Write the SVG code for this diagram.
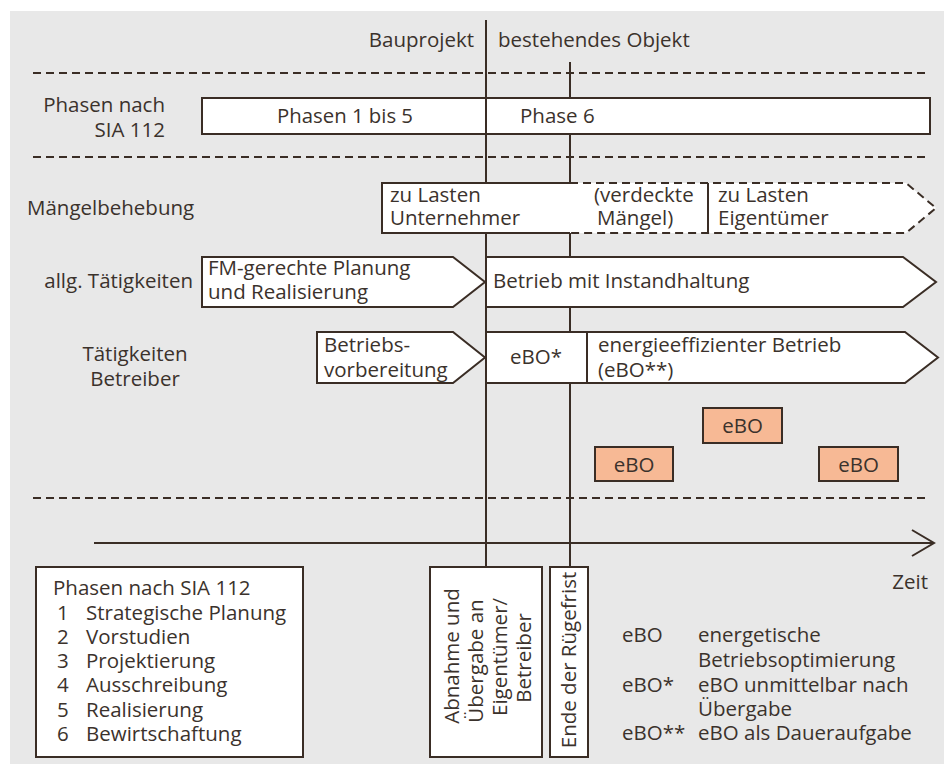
<svg xmlns="http://www.w3.org/2000/svg" width="944" height="764" viewBox="0 0 944 764">
<style>
text{font-family:"Open Sans","Noto Sans","DejaVu Sans",sans-serif;font-size:20.5px;font-weight:400;fill:#3b322c}
.ln{stroke:#3a2d25;stroke-width:2;fill:none}
.dash{stroke:#3a2d25;stroke-width:2;fill:none;stroke-dasharray:8 5}
.box{fill:#fff;stroke:#3a2d25;stroke-width:2}
.ebo{fill:#f7b995;stroke:#3a2d25;stroke-width:2}
.mid{text-anchor:middle}
.end{text-anchor:end}
</style>
<rect x="10" y="11" width="934" height="753" fill="#e8e8e8"/>

<g id="connectors">
<line class="dash" x1="33" y1="73" x2="930" y2="73"/>
<line class="dash" x1="33" y1="157" x2="930" y2="157"/>
<line class="dash" x1="33" y1="498" x2="930" y2="498"/>
<line class="ln" x1="486" y1="20" x2="486" y2="567"/>
<line class="ln" x1="570" y1="62" x2="570" y2="567"/>
<line class="ln" x1="94" y1="543" x2="933" y2="543" stroke-width="3"/>
<polyline class="ln" points="912,530 934,543 912,556" stroke-width="3"/>
</g>

<g id="header">
<text class="end" x="474" y="47">Bauprojekt</text>
<text x="498" y="47">bestehendes Objekt</text>
</g>

<g id="row-labels">
<text class="end" x="165" y="112">Phasen nach</text>
<text class="end" x="165" y="137">SIA 112</text>
<text x="27" y="215">Mängelbehebung</text>
<text class="end" x="193" y="288">allg. Tätigkeiten</text>
<text class="mid" x="135" y="361">Tätigkeiten</text>
<text class="mid" x="135" y="386">Betreiber</text>
</g>

<g id="phasen">
<rect class="box" x="202" y="98" width="728" height="36"/>
<line class="ln" x1="486" y1="98" x2="486" y2="134"/>
<text class="mid" x="345" y="123" textLength="136" lengthAdjust="spacingAndGlyphs">Phasen 1 bis 5</text>
<text x="520" y="123">Phase 6</text>
</g>

<g id="maengel">
<polygon points="382,183 906,183 936,208 906,233 382,233" fill="#fff"/>
<path class="ln" d="M570,183 H382 V233 H570"/>
<path class="dash" d="M570,183 H906 L936,208 L906,233 H570"/>
<line class="ln" x1="708" y1="183" x2="708" y2="233" stroke-width="1.5"/>
<text x="390" y="202">zu Lasten</text>
<text x="390" y="225">Unternehmer</text>
<text x="594" y="202">(verdeckte</text>
<text x="597" y="225">Mängel)</text>
<text x="718" y="202">zu Lasten</text>
<text x="718" y="225">Eigentümer</text>
</g>

<g id="fm">
<polygon class="box" points="202,257 453,257 485,282 453,307 202,307"/>
<text x="208" y="275">FM-gerechte Planung</text>
<text x="208" y="299">und Realisierung</text>
</g>

<g id="betrieb">
<polygon class="box" points="486,257 903,257 936,282 903,307 486,307"/>
<text x="493" y="288">Betrieb mit Instandhaltung</text>
</g>

<g id="vorbereitung">
<polygon class="box" points="317,332 453,332 485,357.5 453,383 317,383"/>
<text x="324" y="352">Betriebs-</text>
<text x="324" y="377">vorbereitung</text>
</g>

<g id="ebo-star">
<rect class="box" x="486" y="332" width="101" height="51"/>
<text class="mid" x="536" y="364">eBO*</text>
</g>

<g id="energieeffizient">
<polygon class="box" points="587,332 905,332 938,357.5 905,383 587,383"/>
<text x="598" y="352">energieeffizienter Betrieb</text>
<text x="598" y="377">(eBO**)</text>
</g>

<g id="ebo-1">
<rect class="ebo" x="595" y="447" width="78" height="34"/>
<text class="mid" x="634" y="472">eBO</text>
</g>
<g id="ebo-2">
<rect class="ebo" x="703" y="408" width="79" height="35"/>
<text class="mid" x="742.5" y="433">eBO</text>
</g>
<g id="ebo-3">
<rect class="ebo" x="819" y="447" width="79" height="34"/>
<text class="mid" x="858.5" y="472">eBO</text>
</g>

<g id="zeit">
<text class="end" x="928" y="589">Zeit</text>
</g>

<g id="legend-phasen">
<rect class="box" x="36" y="567" width="267" height="190"/>
<text x="53" y="595">Phasen nach SIA 112</text>
<text x="57" y="620">1</text><text x="86" y="620">Strategische Planung</text>
<text x="57" y="644">2</text><text x="86" y="644">Vorstudien</text>
<text x="57" y="668">3</text><text x="86" y="668">Projektierung</text>
<text x="57" y="692">4</text><text x="86" y="692">Ausschreibung</text>
<text x="57" y="717">5</text><text x="86" y="717">Realisierung</text>
<text x="57" y="741">6</text><text x="86" y="741">Bewirtschaftung</text>
</g>

<g id="abnahme">
<rect class="box" x="430" y="567" width="112" height="190"/>
<text class="mid" transform="translate(459,656) rotate(-90)">Abnahme und</text>
<text class="mid" transform="translate(483,661) rotate(-90)">Übergabe an</text>
<text class="mid" transform="translate(507,657) rotate(-90)">Eigentümer/</text>
<text class="mid" transform="translate(531,658) rotate(-90)">Betreiber</text>
</g>

<g id="ruegefrist">
<rect class="box" x="550" y="567" width="38" height="190"/>
<text class="mid" transform="translate(576,660) rotate(-90)">Ende der Rügefrist</text>
</g>

<g id="legend-ebo">
<text x="622" y="642">eBO</text><text x="698" y="642">energetische</text>
<text x="698" y="667">Betriebsoptimierung</text>
<text x="622" y="692">eBO*</text><text x="698" y="692">eBO unmittelbar nach</text>
<text x="698" y="716">Übergabe</text>
<text x="622" y="740">eBO**</text><text x="698" y="740">eBO als Daueraufgabe</text>
</g>
</svg>
